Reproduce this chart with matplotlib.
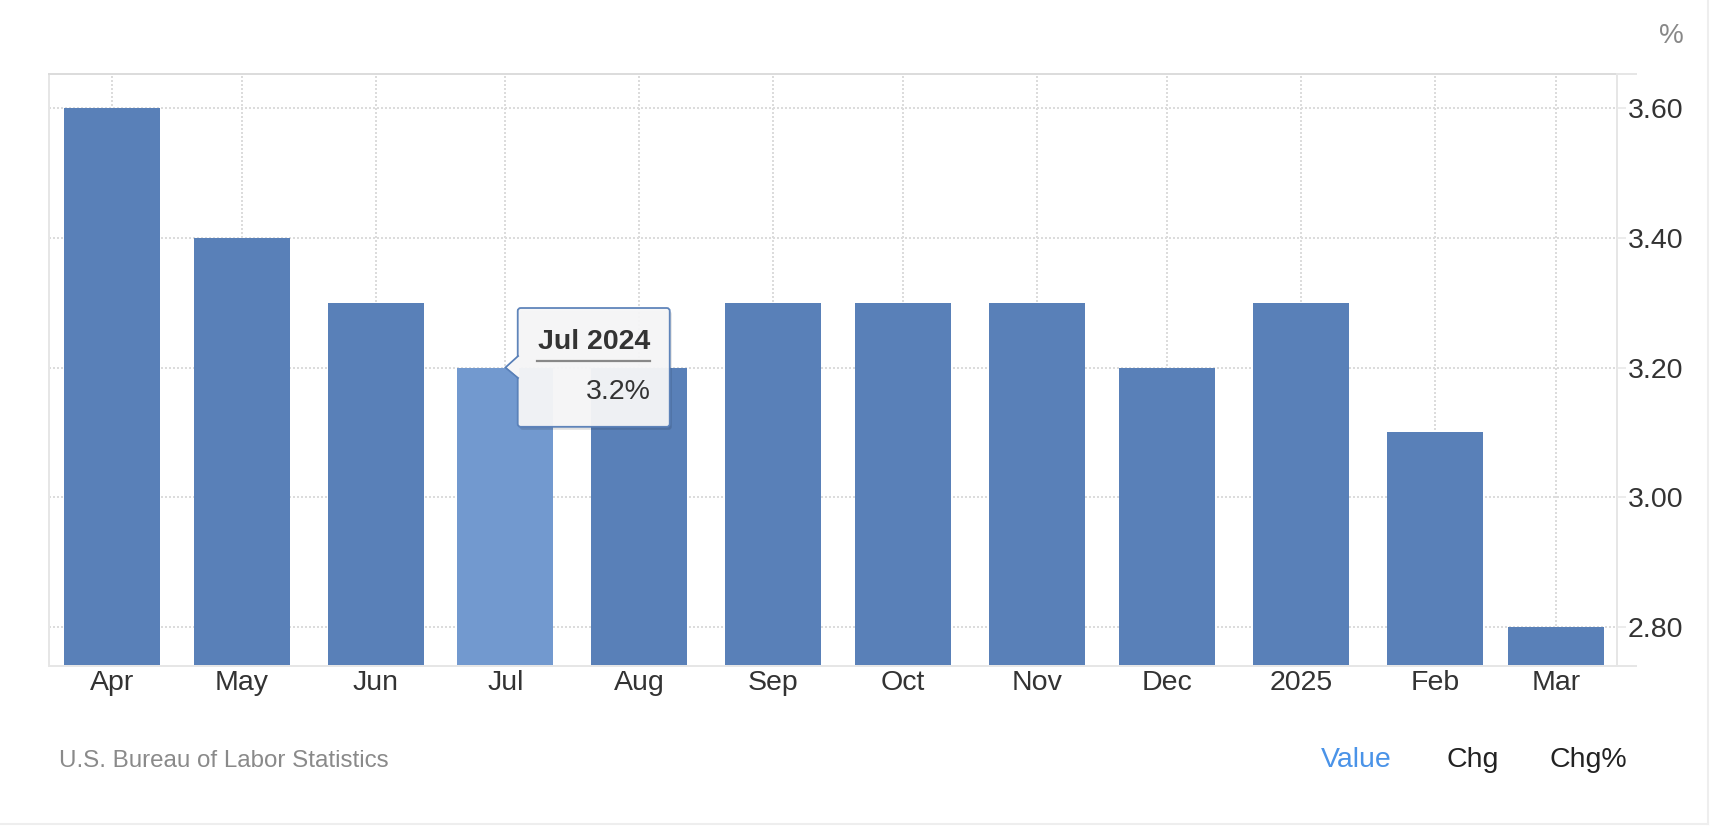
import matplotlib
matplotlib.use("Agg")
import matplotlib.pyplot as plt
import matplotlib.dates as mdates
from matplotlib.lines import Line2D
from matplotlib.patches import FancyBboxPatch, Polygon
from matplotlib.transforms import IdentityTransform
import datetime as dt

# ---- data ----
months = ["2024-04-01", "2024-05-01", "2024-06-01", "2024-07-01", "2024-08-01", "2024-09-01",
          "2024-10-01", "2024-11-01", "2024-12-01", "2025-01-01", "2025-02-01", "2025-03-01"]
tick_labels = ["Apr", "May", "Jun", "Jul", "Aug", "Sep", "Oct", "Nov", "Dec", "2025", "Feb", "Mar"]
values = [3.6, 3.4, 3.3, 3.2, 3.2, 3.3, 3.3, 3.3, 3.2, 3.3, 3.1, 2.8]
y_ticks = [2.80, 3.00, 3.20, 3.40, 3.60]
highlight_index = 3
tooltip_title = "Jul 2024"
tooltip_value = "3.2%"
source_text = "U.S. Bureau of Labor Statistics"
buttons = ["Value", "Chg", "Chg%"]

plt.rcParams['font.family'] = ['Liberation Sans', 'DejaVu Sans']

W, H = 1718, 832
fig = plt.figure(figsize=(W / 100, H / 100), dpi=100)
fig.patch.set_facecolor("white")

L, R, T, B = 49, 1617, 74, 665.5
ax = fig.add_axes([L / W, 1 - B / H, (R - L) / W, (B - T) / H])

dates = [dt.datetime.strptime(m, "%Y-%m-%d") for m in months]
x = mdates.date2num(dates)

bar_color = "#5980b8"
hi_color = "#7299cf"
colors = [hi_color if i == highlight_index else bar_color for i in range(len(values))]
ax.bar(x, values, width=22.2, color=colors, zorder=2, linewidth=0)

ax.set_xlim(x[0] - 14.57, x[-1] + 14.1)
ax.set_ylim(2.7412, 3.6519)

grid_c = "#dcdcdc"
ax.set_xticks(x)
ax.set_xticklabels(tick_labels)
ax.set_yticks(y_ticks)
ax.set_yticklabels([f"{v:.2f}" for v in y_ticks])
ax.yaxis.tick_right()
ax.grid(True, color=grid_c, linestyle=(0, (1, 1)), linewidth=1.44, zorder=0)
ax.set_axisbelow(True)

spine_c = "#e6e6e6"
for s in ["left", "right", "bottom"]:
    ax.spines[s].set_color(spine_c)
    ax.spines[s].set_linewidth(1.44)
ax.spines["top"].set_color(grid_c)
ax.spines["top"].set_linestyle((0, (1, 1)))
ax.spines["top"].set_linewidth(1.44)

ax.tick_params(axis="x", length=0, pad=3, labelsize=20.5, labelcolor="#333333")
ax.tick_params(axis="y", length=6.5, width=1.08, color=spine_c, pad=1, labelsize=20.5,
               labelcolor="#333333", right=True, left=False)

# extensions of top / bottom lines beyond the right axis
for yy in (0, 1):
    ax.add_line(Line2D([1, 1 + 19 / (R - L)], [yy, yy], transform=ax.transAxes,
                       color=spine_c, linewidth=1.44, clip_on=False))

# unit label
fig.text(1684 / W, 1 - 36 / H, "%", ha="right", va="center", fontsize=20, color="#888888")

# footer
fig.text(59 / W, 1 - 761 / H, source_text, ha="left", va="center", fontsize=17.4, color="#8a8a8a")
btn_x = [1356.7, 1472.7, 1588]
btn_c = ["#4a93e8", "#222222", "#222222"]
for bx, bt, bc in zip(btn_x, buttons, btn_c):
    fig.text(bx / W, 1 - 760 / H, bt, ha="center", va="center", fontsize=20.5, color=bc)

# card border
fig.add_artist(Line2D([1708 / W, 1708 / W], [1 - 824 / H, 1], transform=fig.transFigure,
                      color="#eeeeee", linewidth=1.5))
fig.add_artist(Line2D([0, 1708 / W], [1 - 824 / H, 1 - 824 / H], transform=fig.transFigure,
                      color="#eeeeee", linewidth=1.5))

# tooltip
fig.canvas.draw()
tx, ty = ax.transData.transform((x[highlight_index], values[highlight_index]))
idt = IdentityTransform()
bl, br, btop, bbot = tx + 12.3, tx + 164.3, ty + 59.5, ty - 59.3
shadow = FancyBboxPatch((bl + 2, bbot - 3), br - bl, btop - bbot,
                        boxstyle="round,pad=0,rounding_size=3", transform=idt,
                        facecolor="#000000", alpha=0.12, edgecolor="none", zorder=5)
fig.add_artist(shadow)
box = FancyBboxPatch((bl, bbot), br - bl, btop - bbot,
                     boxstyle="round,pad=0,rounding_size=3", transform=idt,
                     facecolor="#f6f6f7", alpha=0.96, edgecolor=bar_color, linewidth=1.3, zorder=6)
fig.add_artist(box)
tri = Polygon([[bl + 1, ty + 12], [tx, ty], [bl + 1, ty - 11]], closed=False, transform=idt,
              facecolor="#f6f6f7", edgecolor=bar_color, linewidth=1.3, zorder=7)
fig.add_artist(tri)
fig.add_artist(Polygon([[bl + 1.5, ty + 11], [tx + 2, ty], [bl + 1.5, ty - 10]], closed=True,
                       transform=idt, facecolor="#f6f6f7", edgecolor="none", zorder=7.5))
fig.add_artist(Line2D([tx + 31.7, tx + 145], [ty + 7, ty + 7], transform=idt,
                      color="#888888", linewidth=1.6, zorder=8))
fig.text(tx + 145, ty + 19, tooltip_title, ha="right", va="baseline", fontsize=20.5,
         fontweight="bold", color="#333333", transform=idt, zorder=8)
fig.text(tx + 145, ty - 31, tooltip_value, ha="right", va="baseline", fontsize=20.5,
         color="#333333", transform=idt, zorder=8)

fig.savefig("out.png", dpi=100, facecolor="white")
